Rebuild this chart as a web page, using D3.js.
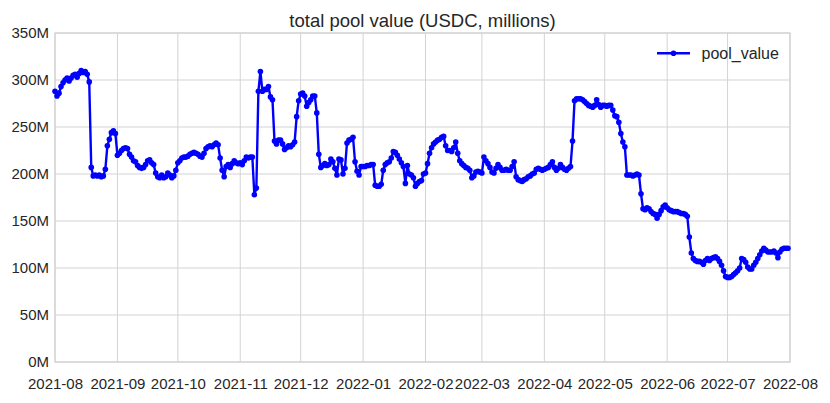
<!DOCTYPE html>
<html>
<head>
<meta charset="utf-8">
<script src="https://cdn.jsdelivr.net/npm/d3@7"></script>
<style>
  body { margin: 0; background: #fff; }
  svg { display: block; font-family: "Liberation Sans", Arial, sans-serif; }
</style>
</head>
<body>
<svg id="chart" width="830" height="403"></svg>
<script>
// daily pool value in millions USDC, one array per month, starting 2021-08-01
const aug21 = [288,283,286,293,297,300,302,299,302,305,306,303,307,310,308,309,306,298,207,198,199,198,199,197,198,205,230,237,244,246,243];
const sep21 = [220,222,225,227,228,227,221,218,214,213,209,207,206,207,210,214,215,212,210,201,197,196,199,196,197,201,199,196,198,204];
const oct21 = [212,214,217,218,218,219,221,222,223,222,221,219,218,222,227,229,230,229,231,233,231,217,204,197,208,210,207,211,214,212,211];
const nov21 = [212,210,214,218,217,218,218,178,185,288,309,288,290,290,293,282,279,235,232,236,236,232,226,228,230,229,231,234,261,278];
const dec21 = [285,286,283,272,276,279,283,283,265,221,207,209,211,209,210,216,213,206,199,216,215,200,206,233,236,237,239,213,203,199,208];
const jan22 = [208,208,209,209,210,210,188,187,187,189,204,210,212,213,217,224,223,220,216,212,208,190,209,200,199,196,187,190,192,193,200];
const feb22 = [201,211,222,228,232,234,236,237,239,240,230,225,225,224,228,234,222,214,211,209,207,206,204,196,198,202,203,202];
const mar22 = [201,218,214,211,207,202,201,206,210,207,204,204,205,204,204,208,213,197,194,193,192,194,195,197,198,200,201,205,206,205,204];
const apr22 = [205,206,207,210,213,207,204,206,210,207,205,204,206,208,235,278,280,280,280,279,277,275,273,272,271,273,279,274,271,273];
const may22 = [273,272,273,273,268,262,261,255,243,234,229,199,199,199,198,199,200,199,179,163,162,164,163,160,158,157,153,157,161,165,167];
const jun22 = [164,162,161,160,160,160,159,158,158,157,155,133,116,110,108,107,107,106,104,108,110,108,110,111,112,110,107,103,97,91];
const jul22 = [90,90,91,93,95,97,100,110,109,106,101,99,99,103,106,110,114,118,121,119,117,117,117,118,116,111,117,120,121,121,121];

const yTicks = [0, 50, 100, 150, 200, 250, 300, 350];
const chartTitle = "total pool value (USDC, millions)";
const seriesName = "pool_value";

const startDate = new Date(Date.UTC(2021, 7, 1));
const values = [].concat(aug21, sep21, oct21, nov21, dec21, jan22, feb22, mar22, apr22, may22, jun22, jul22);
const data = values.map((v, i) => ({ date: d3.utcDay.offset(startDate, i), value: v }));

const margin = { top: 33, right: 40, bottom: 41, left: 55 };
const width = 830, height = 403;
const svg = d3.select("#chart");

const x = d3.scaleUtc()
    .domain([startDate, new Date(Date.UTC(2022, 7, 1))])
    .range([margin.left, width - margin.right]);

const y = d3.scaleLinear()
    .domain([0, 350])
    .range([height - margin.bottom, margin.top]);

const gridColor = "#d3d3d3";
const textColor = "#262626";
const blue = "#0000ff";

// grid
svg.append("g")
    .selectAll("line")
    .data(x.ticks(d3.utcMonth.every(1)))
    .join("line")
    .attr("x1", d => x(d)).attr("x2", d => x(d))
    .attr("y1", margin.top).attr("y2", height - margin.bottom)
    .attr("stroke", gridColor);

svg.append("g")
    .selectAll("line")
    .data(yTicks)
    .join("line")
    .attr("x1", margin.left).attr("x2", width - margin.right)
    .attr("y1", d => y(d)).attr("y2", d => y(d))
    .attr("stroke", gridColor);

// frame
svg.append("rect")
    .attr("x", margin.left).attr("y", margin.top)
    .attr("width", width - margin.left - margin.right)
    .attr("height", height - margin.top - margin.bottom)
    .attr("fill", "none")
    .attr("stroke", gridColor)
    .attr("stroke-width", 1.2);

// axes
const xAxis = svg.append("g")
    .attr("transform", `translate(0,${height - margin.bottom})`)
    .call(d3.axisBottom(x)
        .ticks(d3.utcMonth.every(1))
        .tickFormat(d3.utcFormat("%Y-%m"))
        .tickSize(0)
        .tickPadding(16));

const yAxis = svg.append("g")
    .attr("transform", `translate(${margin.left},0)`)
    .call(d3.axisLeft(y)
        .tickValues(yTicks)
        .tickFormat(d => d + "M")
        .tickSize(0)
        .tickPadding(6));

[xAxis, yAxis].forEach(g => {
    g.select(".domain").remove();
    g.selectAll("text")
        .attr("fill", textColor)
        .style("font-size", "15px");
});

// series
const line = d3.line()
    .x(d => x(d.date))
    .y(d => y(d.value));

svg.append("path")
    .datum(data)
    .attr("fill", "none")
    .attr("stroke", blue)
    .attr("stroke-width", 2.4)
    .attr("stroke-linejoin", "round")
    .attr("d", line);

svg.append("g")
    .selectAll("circle")
    .data(data)
    .join("circle")
    .attr("cx", d => x(d.date))
    .attr("cy", d => y(d.value))
    .attr("r", 2.8)
    .attr("fill", blue);

// title
svg.append("text")
    .attr("x", (margin.left + width - margin.right) / 2)
    .attr("y", 26.5)
    .attr("text-anchor", "middle")
    .attr("fill", textColor)
    .style("font-size", "18.5px")
    .text(chartTitle);

// legend
const legend = svg.append("g").attr("transform", "translate(657,53.3)");
legend.append("line")
    .attr("x1", 0).attr("x2", 33)
    .attr("stroke", blue).attr("stroke-width", 2.4);
legend.append("circle")
    .attr("cx", 16.5).attr("r", 2.8).attr("fill", blue);
legend.append("text")
    .attr("x", 44.5).attr("y", 6)
    .attr("fill", textColor)
    .style("font-size", "16px")
    .text(seriesName);
</script>
</body>
</html>
